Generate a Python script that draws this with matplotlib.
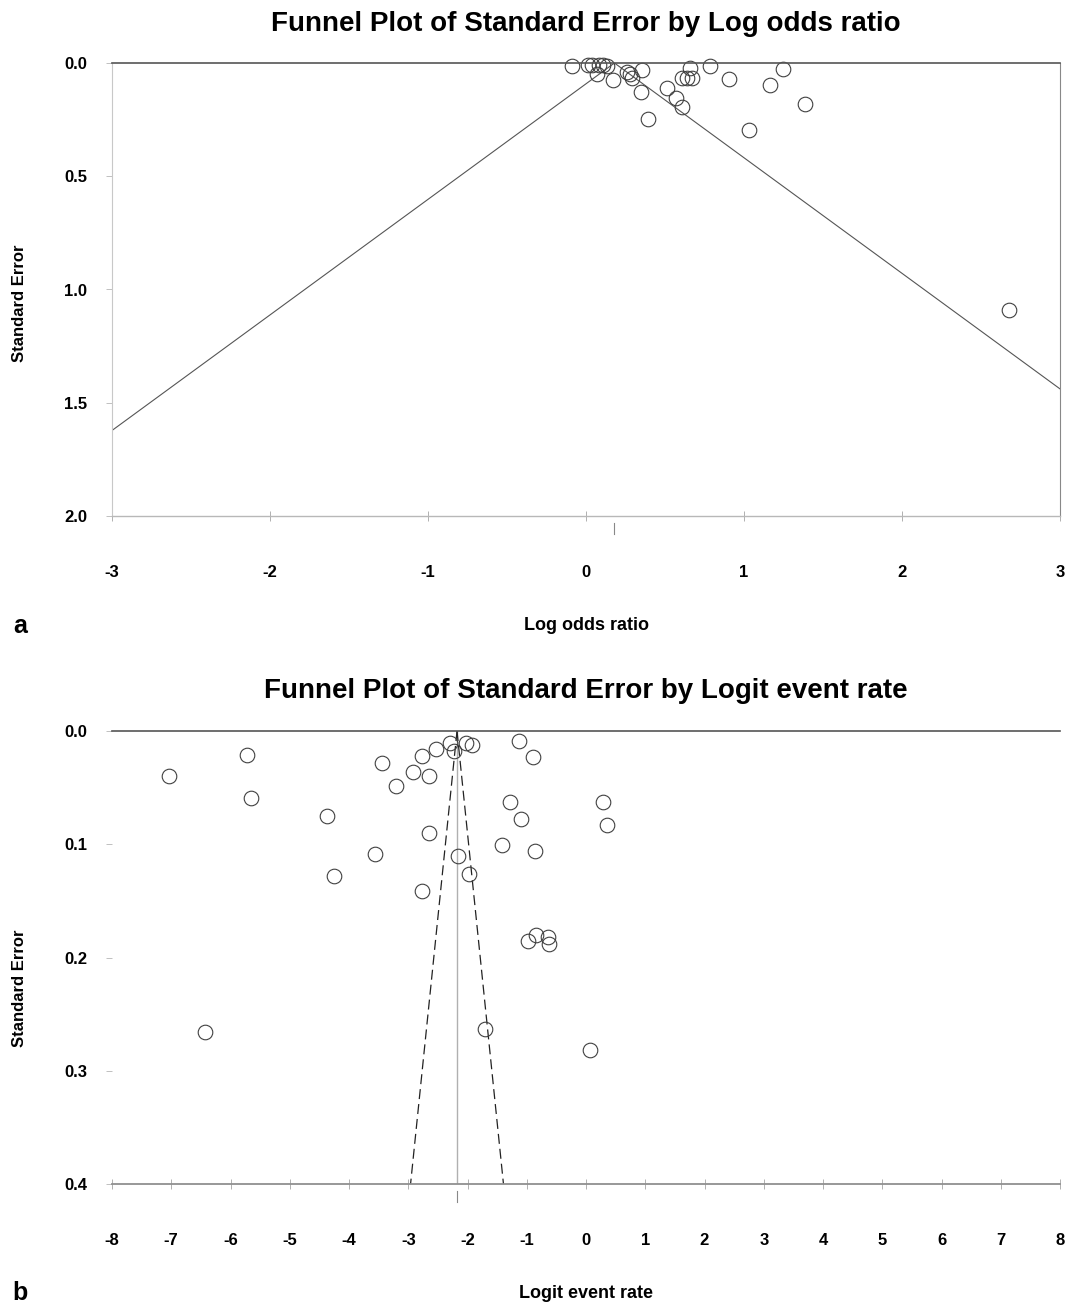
import matplotlib
matplotlib.use("Agg")
import matplotlib.pyplot as plt
import matplotlib.transforms as mtransforms

plt.rcParams['font.family'] = ['Liberation Sans', 'DejaVu Sans']

# ---- Panel a data: log odds ratio vs standard error ----
lor_x = [-0.09, 0.01, 0.04, 0.08, 0.11, 0.135, 0.07, 0.17, 0.26, 0.28, 0.29,
         0.355, 0.345, 0.39, 0.51, 0.57, 0.61, 0.61, 0.64, 0.67, 0.66,
         0.785, 0.905, 1.03, 1.165, 1.245, 1.385, 2.68]
lor_se = [0.013, 0.010, 0.010, 0.010, 0.010, 0.015, 0.050, 0.075, 0.040, 0.047, 0.066,
          0.030, 0.128, 0.247, 0.110, 0.155, 0.195, 0.068, 0.068, 0.068, 0.022,
          0.013, 0.070, 0.298, 0.095, 0.026, 0.180, 1.090]
lor_pooled = 0.18
lor_xticks = [-3, -2, -1, 0, 1, 2, 3]
lor_yticks = [0.0, 0.5, 1.0, 1.5, 2.0]

# ---- Panel b data: logit event rate vs standard error ----
ler_x = [-7.04, -5.72, -5.65, -6.43, -4.37, -4.25, -3.56, -3.44, -3.21, -2.92,
         -2.77, -2.77, -2.65, -2.65, -2.53, -2.30, -2.23, -2.16, -2.03, -1.92,
         -1.97, -1.70, -1.42, -1.28, -1.13, -1.10, -0.89, -0.86, -0.98, -0.84,
         -0.64, -0.62, 0.07, 0.29, 0.35]
ler_se = [0.040, 0.021, 0.059, 0.266, 0.075, 0.128, 0.109, 0.028, 0.049, 0.036,
          0.141, 0.022, 0.090, 0.040, 0.016, 0.011, 0.018, 0.110, 0.011, 0.012,
          0.126, 0.263, 0.101, 0.063, 0.009, 0.078, 0.023, 0.106, 0.185, 0.180,
          0.182, 0.188, 0.282, 0.063, 0.083]
ler_pooled = -2.177
ler_xticks = list(range(-8, 9))
ler_yticks = [0.0, 0.1, 0.2, 0.3, 0.4]

Z = 1.96

fig = plt.figure(figsize=(10.69, 13.04), dpi=100)

W, H = 1069.0, 1304.0
ax1 = fig.add_axes([112 / W, 1 - 516 / H, 948 / W, 453 / H])
ax2 = fig.add_axes([112 / W, 1 - 1184 / H, 948 / W, 453 / H])

bold = dict(fontweight='bold')


def style_axes(ax, xticks, yticks, xlim, ylim, box):
    ax.set_xlim(*xlim)
    ax.set_ylim(ylim[1], ylim[0])
    ax.set_xticks(xticks)
    ax.set_yticks(yticks)
    ax.set_xticklabels([f"{t:g}" for t in xticks], fontsize=12, **bold)
    ax.set_yticklabels([f"{t:.1f}" for t in yticks], fontsize=12, **bold)
    ax.tick_params(axis='x', direction='inout', length=7, width=0.7,
                   color='#b0b0b0', pad=32)
    ax.tick_params(axis='y', direction='out', length=4, width=0.7,
                   color='#c0c0c0', pad=14)
    ax.spines['top'].set_color('#555555')
    ax.spines['top'].set_linewidth(1.2)
    ax.spines['bottom'].set_color('#b8b8b8' if box else '#909090')
    ax.spines['bottom'].set_linewidth(1.0 if box else 1.3)
    if box:
        ax.spines['left'].set_color('#c8c8c8')
        ax.spines['right'].set_color('#888888')
    else:
        ax.spines['left'].set_visible(False)
        ax.spines['right'].set_visible(False)
    ax.set_facecolor('white')


# Panel a
style_axes(ax1, lor_xticks, lor_yticks, (-3, 3), (0, 2.0), box=True)
se_line = [0.0, 2.0]
ax1.plot([lor_pooled - Z * s for s in se_line], se_line, color='#555555', lw=0.8)
ax1.plot([lor_pooled + Z * s for s in se_line], se_line, color='#555555', lw=0.8)
ax1.plot(lor_x, lor_se, 'o', ms=10.5, mfc='none', mec='#404040', mew=0.8,
         clip_on=False)
tr1 = mtransforms.blended_transform_factory(ax1.transData, ax1.transAxes)
ax1.plot([lor_pooled, lor_pooled], [-0.015, -0.04], color='#888888', lw=0.8,
         transform=tr1, clip_on=False)
ax1.set_title('Funnel Plot of Standard Error by Log odds ratio', fontsize=20,
              fontweight='bold', pad=23)

# Panel b
style_axes(ax2, ler_xticks, ler_yticks, (-8, 8), (0, 0.4), box=False)
se_line2 = [0.0, 0.4]
ax2.plot([ler_pooled, ler_pooled], se_line2, color='#b0b0b0', lw=1.0)
ax2.plot([ler_pooled - Z * s for s in se_line2], se_line2, color='#222222', lw=0.9,
         ls=(0, (8, 4)))
ax2.plot([ler_pooled + Z * s for s in se_line2], se_line2, color='#222222', lw=0.9,
         ls=(0, (8, 4)))
ax2.plot(ler_x, ler_se, 'o', ms=10.5, mfc='none', mec='#404040', mew=0.8,
         clip_on=False)
tr2 = mtransforms.blended_transform_factory(ax2.transData, ax2.transAxes)
ax2.plot([ler_pooled, ler_pooled], [-0.015, -0.04], color='#888888', lw=0.8,
         transform=tr2, clip_on=False)
ax2.set_title('Funnel Plot of Standard Error by Logit event rate', fontsize=20,
              fontweight='bold', pad=24)

# Axis labels and panel letters
fig.text(586 / W, 1 - 626 / H, 'Log odds ratio', ha='center', va='center',
         fontsize=13, **bold)
fig.text(586 / W, 1 - 1293 / H, 'Logit event rate', ha='center', va='center',
         fontsize=13, **bold)
fig.text(20 / W, 1 - 303 / H, 'Standard Error', ha='center', va='center',
         rotation=90, fontsize=12, **bold)
fig.text(20 / W, 1 - 988 / H, 'Standard Error', ha='center', va='center',
         rotation=90, fontsize=12, **bold)
fig.text(20 / W, 1 - 626 / H, 'a', ha='center', va='center', fontsize=18, **bold)
fig.text(20 / W, 1 - 1293 / H, 'b', ha='center', va='center', fontsize=18, **bold)

fig.savefig('out.png', dpi=100, facecolor='white')
